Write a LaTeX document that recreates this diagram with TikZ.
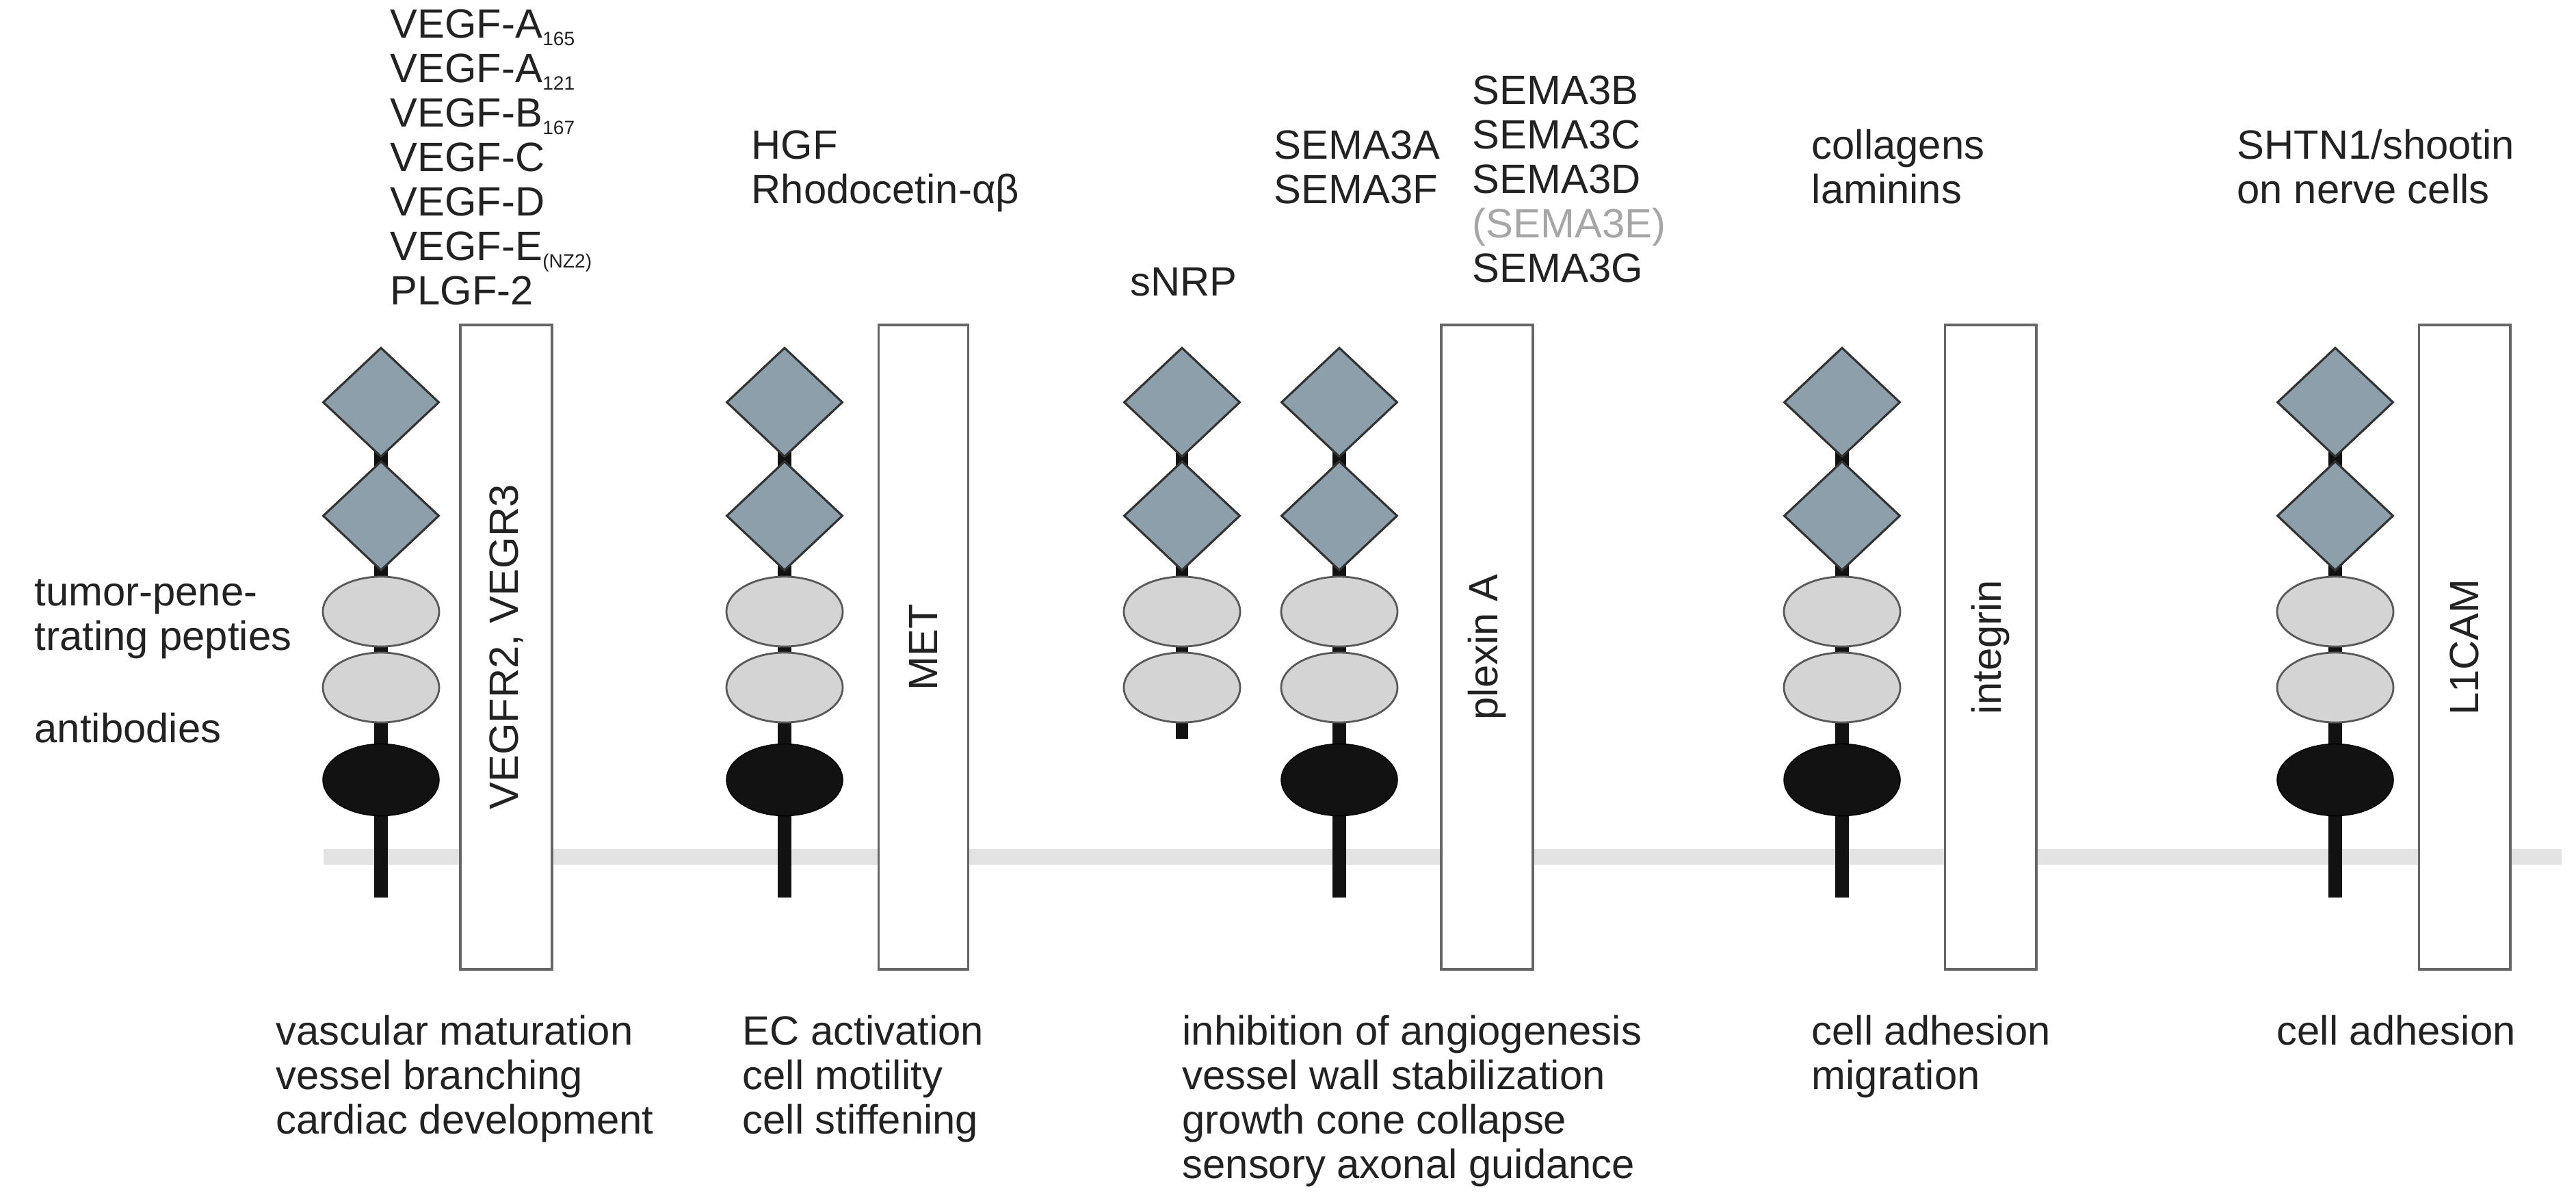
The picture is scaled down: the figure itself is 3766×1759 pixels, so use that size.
\documentclass[tikz,border=0pt]{standalone}
\usepackage{fontspec}
\setmainfont{Liberation Sans}
\usetikzlibrary{shapes.geometric}
\definecolor{dia}{HTML}{8C9FAA}
\definecolor{lig}{HTML}{D4D4D4}
\definecolor{txt}{HTML}{222222}
\newcommand{\sbx}[1]{\raisebox{-0.35ex}{\fontsize{8}{8}\selectfont #1}}
\begin{document}
\begin{tikzpicture}[x=0.01cm,y=-0.01cm,
  lbl/.style={anchor=base west,inner sep=0,text=txt,font=\fontsize{17}{19}\selectfont},
  rlbl/.style={inner sep=0,text=txt,rotate=90,font=\fontsize{17}{19}\selectfont},
  dm/.style={diamond,draw=black!80,line width=0.9pt,fill=dia,minimum width=1.7cm,minimum height=1.6cm,inner sep=0},
  el/.style={ellipse,draw=black!65,line width=0.8pt,fill=lig,minimum width=1.7cm,minimum height=1.02cm,inner sep=0},
  bel/.style={ellipse,draw=black,fill=black!93,minimum width=1.7cm,minimum height=1.05cm,inner sep=0},
  stem/.style={line width=0.2cm,draw=black!93},
  box/.style={draw=black!60,line width=1.1pt,fill=white,inner sep=0},
  mem/.style={line width=0.23cm,draw=black!11},
  receptor/.pic={
    \coordinate (-top) at (0,660);
    \coordinate (-end) at (0,1312);
    \draw[stem] (-top) -- (-end);
    \node[dm] (-d1) at (0,588) {};
    \node[dm] (-d2) at (0,754) {};
    \node[el] (-e1) at (0,894) {};
    \node[el] (-e2) at (0,1005) {};
    \node[bel] (-b) at (0,1140) {};
  },
  sreceptor/.pic={
    \coordinate (-top) at (0,660);
    \coordinate (-end) at (0,1080);
    \draw[line width=0.18cm,draw=black!93] (-top) -- (-end);
    \node[dm] (-d1) at (0,588) {};
    \node[dm] (-d2) at (0,754) {};
    \node[el] (-e1) at (0,894) {};
    \node[el] (-e2) at (0,1005) {};
  }]
\useasboundingbox (0,0) rectangle (3766,1759);
\fill[white] (0,0) rectangle (3766,1759);
\coordinate (mL) at (473,1252);
\coordinate (mR) at (3745,1252);
\draw[mem] (mL) -- (mR);

\pic (r1) at (557,0) {receptor};
\pic (r2) at (1147,0) {receptor};
\pic (r3) at (1728,0) {sreceptor};
\pic (r4) at (1958,0) {receptor};
\pic (r5) at (2693,0) {receptor};
\pic (r6) at (3414,0) {receptor};

\node[box,minimum width=1.34cm,minimum height=9.42cm] (b1) at (740,946) {};
\node[box,minimum width=1.31cm,minimum height=9.42cm] (b2) at (1350,946) {};
\node[box,minimum width=1.34cm,minimum height=9.42cm] (b3) at (2174,946) {};
\node[box,minimum width=1.33cm,minimum height=9.42cm] (b4) at (2910,946) {};
\node[box,minimum width=1.33cm,minimum height=9.42cm] (b5) at (3603,946) {};
\node[rlbl] (t1) at (b1) {VEGFR2, VEGR3};
\node[rlbl] (t2) at (b2) {MET};
\node[rlbl] (t3) at (b3) {plexin A};
\node[rlbl] (t4) at (b4) {integrin};
\node[rlbl] (t5) at (b5) {L1CAM};

% top ligands
\node[lbl] (v1) at (570,55) {VEGF-A\sbx{165}};
\node[lbl] (v2) at (570,120) {VEGF-A\sbx{121}};
\node[lbl] (v3) at (570,185) {VEGF-B\sbx{167}};
\node[lbl] (v4) at (570,250) {VEGF-C};
\node[lbl] (v5) at (570,315) {VEGF-D};
\node[lbl] (v6) at (570,380) {VEGF-E\sbx{(NZ2)}};
\node[lbl] (v7) at (570,445) {PLGF-2};
\node[lbl] (h1) at (1098,232) {HGF};
\node[lbl] (h2) at (1098,297) {Rhodocetin-αβ};
\node[lbl] (s0) at (1652,432) {sNRP};
\node[lbl] (sa) at (1862,232) {SEMA3A};
\node[lbl] (sf) at (1862,297) {SEMA3F};
\node[lbl] (sb) at (2152,152) {SEMA3B};
\node[lbl] (sc) at (2152,217) {SEMA3C};
\node[lbl] (sd) at (2152,282) {SEMA3D};
\node[lbl,text=black!35] (se) at (2152,347) {(SEMA3E)};
\node[lbl] (sg) at (2152,412) {SEMA3G};
\node[lbl] (c1) at (2648,232) {collagens};
\node[lbl] (c2) at (2648,297) {laminins};
\node[lbl] (n1) at (3270,232) {SHTN1/shootin};
\node[lbl] (n2) at (3270,297) {on nerve cells};

% left
\node[lbl] (l1) at (50,885) {tumor-pene-};
\node[lbl] (l2) at (50,950) {trating pepties};
\node[lbl] (l3) at (50,1085) {antibodies};

% bottom functions
\node[lbl] (f1) at (403,1527) {vascular maturation};
\node[lbl] (f2) at (403,1592) {vessel branching};
\node[lbl] (f3) at (403,1657) {cardiac development};
\node[lbl] (g1) at (1085,1527) {EC activation};
\node[lbl] (g2) at (1085,1592) {cell motility};
\node[lbl] (g3) at (1085,1657) {cell stiffening};
\node[lbl] (i1) at (1728,1527) {inhibition of angiogenesis};
\node[lbl] (i2) at (1728,1592) {vessel wall stabilization};
\node[lbl] (i3) at (1728,1657) {growth cone collapse};
\node[lbl] (i4) at (1728,1722) {sensory axonal guidance};
\node[lbl] (a1) at (2648,1527) {cell adhesion};
\node[lbl] (a2) at (2648,1592) {migration};
\node[lbl] (m1) at (3328,1527) {cell adhesion};
\end{tikzpicture}
\end{document}
